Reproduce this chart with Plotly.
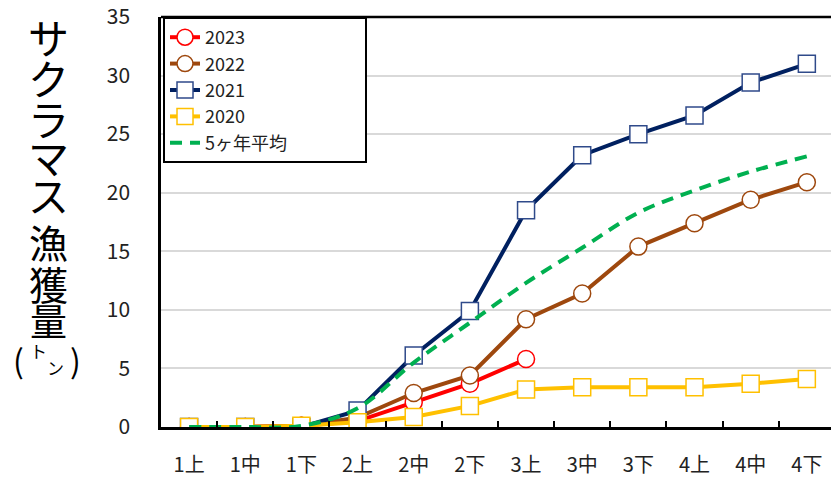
import plotly.graph_objects as go

categories = ["1上", "1中", "1下", "2上", "2中", "2下", "3上", "3中", "3下", "4上", "4中", "4下"]
y2023 = [0, 0, 0.1, 0.5, 2.1, 3.7, 5.8]
y2022 = [0, 0, 0.1, 0.8, 2.9, 4.4, 9.2, 11.4, 15.4, 17.4, 19.4, 20.9]
y2021 = [0, 0, 0, 1.4, 6.1, 9.9, 18.5, 23.2, 25.0, 26.6, 29.4, 31.0]
y2020 = [0, 0, 0.1, 0.4, 0.85, 1.8, 3.2, 3.4, 3.4, 3.4, 3.7, 4.1]
yavg = [0, 0, 0.1, 1.6, 5.5, 8.9, 12.3, 15.3, 18.3, 20.2, 21.8, 23.1]
y_ticks = [0, 5, 10, 15, 20, 25, 30, 35]

FONT = "Noto Sans CJK JP"
PAD = "\u00a0" * 18

fig = go.Figure()

def add(name, ys, color, symbol, mcolor, dash="solid", shape="linear", markers=True):
    fig.add_trace(go.Scatter(
        x=categories[:len(ys)], y=ys, name=name,
        mode="lines+markers" if markers else "lines",
        line=dict(color=color, width=4, dash=dash, shape=shape),
        marker=dict(symbol=symbol, size=17, color="white",
                    line=dict(color=mcolor, width=1.5)) if markers else None,
    ))

add("2023", y2023, "#FF0000", "circle", "#FF0000")
add("2022", y2022, "#9E480E", "circle", "#9E480E")
add("2021", y2021, "#002060", "square", "#2F4A8A")
add("2020", y2020, "#FFC000", "square", "#FFC000")
add("5ヶ年平均" + PAD, yavg, "#00B050", None, None, dash="12px,8px", shape="spline", markers=False)

fig.update_layout(
    width=831, height=479,
    margin=dict(l=161, r=0, t=17, b=52),
    paper_bgcolor="white", plot_bgcolor="white",
    font=dict(family=FONT, color="#000000"),
    showlegend=True,
    legend=dict(
        x=0.003, y=1, xanchor="left", yanchor="top",
        bordercolor="#000000", borderwidth=2, bgcolor="white",
        font=dict(size=18, family=FONT, color="#222222"),
        tracegroupgap=0,
    ),
    xaxis=dict(
        type="category", categoryorder="array", categoryarray=categories,
        range=[-0.5, 11.43], automargin=False,
        showline=True, linecolor="#000000", linewidth=2.5,
        ticks="inside", ticklen=6, tickwidth=2, tickcolor="#000000",
        tickson="boundaries", showgrid=False,
        tickfont=dict(size=20, family=FONT, color="#222222"),
        ticklabelstandoff=18,
    ),
    yaxis=dict(
        range=[0, 35], tickvals=y_ticks, automargin=False,
        showline=True, linecolor="#000000", linewidth=2.5,
        showgrid=True, gridcolor="#D9D9D9", gridwidth=1.5,
        zeroline=False, ticks="",
        tickfont=dict(size=21, family=FONT, color="#222222"),
        ticklabelstandoff=24,
    ),
)

# top border of plot area
fig.add_shape(type="line", xref="paper", yref="paper", x0=0, x1=1, y0=1, y1=1,
              line=dict(color="#000000", width=2.5))

# vertical y-axis title
title_chars = ["サ", "ク", "ラ", "マ", "ス", "漁", "獲", "量"]
centers = [36, 77, 118, 156, 194, 241, 283, 320]
sizes = [41, 41, 41, 41, 41, 39, 39, 37]
for ch, cy, sz in zip(title_chars, centers, sizes):
    fig.add_annotation(text=ch, xref="paper", yref="paper",
                       x=(48 - 161) / 670, y=1 - (cy - 17) / 410,
                       xanchor="center", yanchor="middle", showarrow=False,
                       font=dict(size=sz, family=FONT, color="#000000"))
for ch, cx, cy, sz in [("(", 18, 359, 32), ("ト", 38, 350, 17), ("ン", 55, 367, 17), (")", 75, 359, 32)]:
    fig.add_annotation(text=ch, xref="paper", yref="paper",
                       x=(cx - 161) / 670, y=1 - (cy - 17) / 410,
                       xanchor="center", yanchor="middle", showarrow=False,
                       font=dict(size=sz, family=FONT, color="#000000"))

fig.write_html("out.html", config={"displayModeBar": False},
               post_script="document.body.style.margin='0px';")
